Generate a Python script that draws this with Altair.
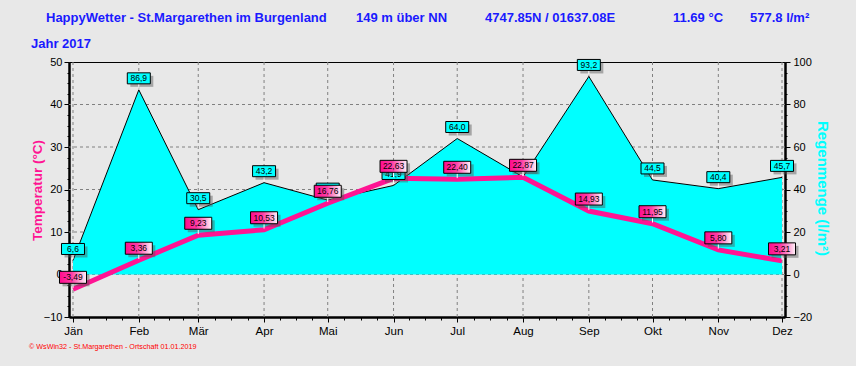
import json
import altair as alt
import pandas as pd

# ---------------- data ----------------
months = ["Jän", "Feb", "Mär", "Apr", "Mai", "Jun", "Jul", "Aug", "Sep", "Okt", "Nov", "Dez"]
month_start = ["2017-01-01", "2017-02-01", "2017-03-01", "2017-04-01", "2017-05-01", "2017-06-01",
               "2017-07-01", "2017-08-01", "2017-09-01", "2017-10-01", "2017-11-01", "2017-12-01"]
temperature = [-3.49, 3.36, 9.23, 10.53, 16.76, 22.63, 22.40, 22.87, 14.93, 11.95, 5.80, 3.21]
rain = [6.6, 86.9, 30.5, 43.2, 35.0, 41.9, 64.0, 45.9, 93.2, 44.5, 40.4, 45.7]

header_items = ["HappyWetter - St.Margarethen im Burgenland", "149 m über NN",
                "4747.85N / 01637.08E", "11.69 °C", "577.8 l/m²"]
year_text = "Jahr  2017"
footer_text = "© WsWin32  -  St.Margarethen - Ortschaft  01.01.2019"
temp_title = "Temperatur  (°C)"
rain_title = "Regenmenge  (l/m²)"

# ---------------- styles ----------------
FONT = "Liberation Sans"
BLUE = "#1A1AFF"
PINK = "#FF1493"
CYAN = "#00FFFF"
BG = "#E8E8E8"
GRID = "#808080"

df = pd.DataFrame({
    "date": month_start,
    "month": months,
    "temp": temperature,
    "rain": rain,
    "temp_lbl": [f"{v:.2f}".replace(".", ",") for v in temperature],
    "rain_lbl": [f"{v:.1f}".replace(".", ",") for v in rain],
})


def ms(s):
    return int(pd.Timestamp(s, tz="UTC").value // 10**6)


DAY = 86400000
starts = [ms(d) for d in month_start]
x_domain = [starts[0] - int(1.884 * DAY), starts[-1] + int(1.413 * DAY)]
x_ticks = []
for i, s in enumerate(starts):
    x_ticks.append(s)
    if i + 1 < len(starts):
        span = starts[i + 1] - s
        for f in (0.25, 0.5, 0.75):
            x_ticks.append(int(s + f * span))

major_test = "utcdate(datum.value) == 1 && utchours(datum.value) == 0 && utcminutes(datum.value) == 0"
x_axis = alt.Axis(
    values=x_ticks,
    labelExpr=f"{major_test} ? {json.dumps(months, ensure_ascii=False)}[utcmonth(datum.value)] : ''",
    grid=False, title=None,
    domainColor="black", domainWidth=2.5,
    tickColor="black", tickWidth=1,
    tickSize={"condition": {"test": major_test, "value": 5}, "value": 3},
    labelColor="black", labelFont=FONT, labelFontSize=11.5, labelPadding=3,
    labelAngle=0, labelFlush=False, labelOverlap=False,
)
X = alt.X("date:T", scale=alt.Scale(type="utc", domain=x_domain, nice=False), axis=x_axis)

t_scale = alt.Scale(domain=[-10, 50], nice=False, zero=False)
r_scale = alt.Scale(domain=[-20, 100], nice=False, zero=False)

t_axis = alt.Axis(
    values=[-10 + 2.5 * i for i in range(25)],
    labelExpr="datum.value % 10 == 0 ? datum.label : ''",
    grid=False, title=temp_title,
    titleColor=PINK, titleFont=FONT, titleFontSize=13.5, titleFontWeight="bold",
    titleAngle=-90, titleX=-32, titleY=128, titleAlign="center", titleBaseline="middle",
    domainColor="black", domainWidth=2.5,
    tickColor="black",
    tickSize={"condition": {"test": "datum.value % 10 == 0", "value": 5}, "value": 2},
    labelColor="black", labelFont=FONT, labelFontSize=11, labelPadding=2,
    labelFlush=False, labelOverlap=False,
)
r_axis = alt.Axis(
    orient="right",
    values=[-20 + 5 * i for i in range(25)],
    labelExpr="datum.value % 20 == 0 ? datum.label : ''",
    grid=False, title=rain_title,
    titleColor=CYAN, titleFont=FONT, titleFontSize=15, titleFontWeight="bold",
    titleAngle=90, titleX=37, titleY=126, titleAlign="center", titleBaseline="middle",
    domainColor="black", domainWidth=2.5,
    tickColor="black",
    tickSize={"condition": {"test": "datum.value % 20 == 0", "value": 5}, "value": 2},
    labelColor="black", labelFont=FONT, labelFontSize=11, labelPadding=3,
    labelFlush=False, labelOverlap=False,
)

base = alt.Chart(df)

# grid
vgrid = base.mark_rule(color=GRID, strokeDash=[3, 3], strokeWidth=1).encode(x=X)
hgrid = alt.Chart(pd.DataFrame({"g": [0, 10, 20, 30, 40]})).mark_rule(
    color=GRID, strokeDash=[3, 3], strokeWidth=1
).encode(y=alt.Y("g:Q", scale=t_scale, axis=None))

# rain area
area = base.mark_area(color=CYAN, opacity=1).encode(
    x=X, y=alt.Y("rain:Q", scale=r_scale, axis=r_axis))
outline = base.mark_line(color="black", strokeWidth=1).encode(
    x=X, y=alt.Y("rain:Q", scale=r_scale, axis=None))

# temperature line
tline = base.mark_line(color=PINK, strokeWidth=5, strokeJoin="miter").encode(
    x=X, y=alt.Y("temp:Q", scale=t_scale, axis=t_axis))

# label boxes
rain_shape = "M-1,-0.478L1,-0.478L1,0.478L-1,0.478Z"   # 23 x 11 px at size 529
temp_shape = "M-1,-0.444L1,-0.444L1,0.444L-1,0.444Z"   # 27 x 12 px at size 729

Yr = alt.Y("rain:Q", scale=r_scale, axis=None)
Yt = alt.Y("temp:Q", scale=t_scale, axis=None)

r_shadow = base.mark_point(shape=rain_shape, size=529, filled=True, fill="#555555", strokeWidth=0,
                           opacity=0.45, xOffset=3, yOffset=-8.5).encode(x=X, y=Yr)
r_conn = base.mark_point(shape="M0,-1L0,-0.2", size=144, filled=False, stroke="white",
                         strokeWidth=1, opacity=1).encode(x=X, y=Yr)
r_box = base.mark_point(shape=rain_shape, size=529, filled=True, fill=CYAN, stroke="black",
                        strokeWidth=1, opacity=1, yOffset=-11.5).encode(x=X, y=Yr)
r_text = base.mark_text(font=FONT, fontSize=8.5, color="black", dy=-11.5, baseline="middle").encode(
    x=X, y=Yr, text="rain_lbl:N")

pink_grad = alt.Gradient(
    gradient="linear", x1=0, x2=1, y1=0, y2=0,
    stops=[alt.GradientStop(color="#FF0A8C", offset=0),
           alt.GradientStop(color="#FF3CA5", offset=0.45),
           alt.GradientStop(color="#FFF4FA", offset=1)])

t_shadow = base.mark_point(shape=temp_shape, size=729, filled=True, fill="#555555", strokeWidth=0,
                           opacity=0.45, xOffset=3, yOffset=-9).encode(x=X, y=Yt)
t_conn = base.mark_point(shape="M0,-1L0,-0.2", size=144, filled=False, stroke="white",
                         strokeWidth=1, opacity=1).encode(x=X, y=Yt)
t_box = base.mark_point(shape=temp_shape, size=729, filled=True, fill=pink_grad, stroke="black",
                        strokeWidth=1, opacity=1, yOffset=-12).encode(x=X, y=Yt)
t_text = base.mark_text(font=FONT, fontSize=8.5, color="black", dy=-12, baseline="middle").encode(
    x=X, y=Yt, text="temp_lbl:N")

# header / footer texts (pixel positions relative to plot origin at 69,62)
def label_text(txt, x, y, size, color, weight="bold"):
    return alt.Chart(pd.DataFrame({"t": [txt]})).mark_text(
        font=FONT, fontSize=size, fontWeight=weight, color=color, align="left", baseline="middle"
    ).encode(x=alt.value(x), y=alt.value(y), text="t:N")

hx = [46, 356, 485, 673, 750]
texts = [label_text(t, x - 69, 18 - 62, 13, BLUE) for t, x in zip(header_items, hx)]
texts.append(label_text(year_text, 31 - 69, 44 - 62, 13, BLUE))
texts.append(label_text(footer_text, 29 - 69, 347 - 62, 7.2, "#FF0000", weight="normal"))

chart = alt.layer(
    vgrid, hgrid, area, outline, tline,
    r_shadow, r_conn, r_box, r_text,
    t_shadow, t_conn, t_box, t_text,
    *texts,
).resolve_scale(y="independent").properties(
    width=716, height=255,
    autosize=alt.AutoSizeParams(type="none"),
    padding={"left": 69, "top": 62, "right": 71, "bottom": 49},
    background=BG,
).configure_view(stroke="black", strokeWidth=1, fill=BG)

chart.save("out.html", embed_options={"renderer": "svg", "actions": False})
